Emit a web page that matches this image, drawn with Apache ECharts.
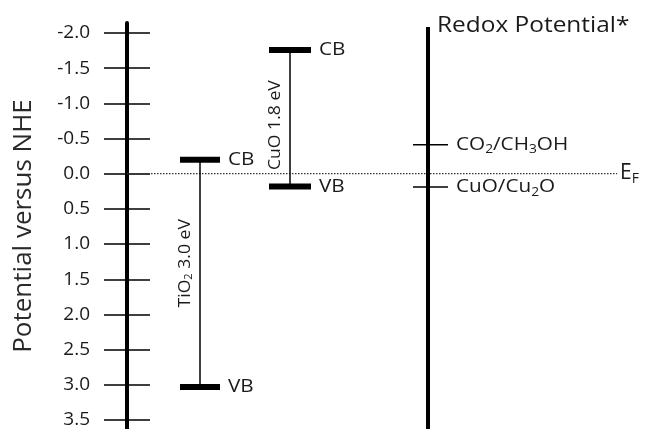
<!DOCTYPE html>
<html><head><meta charset="utf-8">
<script src="https://cdn.jsdelivr.net/npm/echarts@6/dist/echarts.min.js"></script>
<style>html,body{margin:0;padding:0;background:#fff}#c{width:649px;height:429px}</style>
</head><body><div id="c"></div>
<script>
// ---- data ----
const yTicks = [-2.0, -1.5, -1.0, -0.5, 0.0, 0.5, 1.0, 1.5, 2.0, 2.5, 3.0, 3.5];
const materials = ['TiO{s|2}', 'CuO'];
const cbEdge = [-0.2, -1.76];
const vbEdge = [3.03, 0.18];
const bandGapText = ['3.0 eV', '1.8 eV'];
const redoxCouples = ['CO{s|2}/CH{s|3}OH', 'CuO/Cu{s|2}O'];
const redoxPotential = [-0.41, 0.19];
const fermiLevel = 0.0;
const axisTitle = 'Potential versus NHE';
const redoxTitle = 'Redox Potential*';

// ---- layout / style ----
const FONT = '"Open Sans"';
const INK = '#1a1a1a';
const Y_MIN = -2.142, Y_MAX = 3.628;
const bandPos = [73, 163];      // x offset from main axis
const bandHalf = [20, 21];
const labelShift = [-10, 7];
const redoxPos = 301;
const fermiExtent = [-24, 490];

function rich(size) {
  return {
    n: {fontFamily: FONT, fontSize: size, fill: INK},
    s: {fontFamily: FONT, fontSize: Math.round(size * 0.65), fill: INK, padding: [Math.round(size * 0.55), 0, 0, 0]}
  };
}
function wrapN(t) { return t.split(/(\{s\|[^}]*\})/).filter(Boolean).map(p => p.startsWith('{s|') ? p : '{n|' + p + '}').join(''); }

const chart = echarts.init(document.getElementById('c'), null, {renderer: 'canvas'});

const yBase = {
  type: 'value', inverse: true, min: Y_MIN, max: Y_MAX, position: 'left',
  splitLine: {show: false}
};

chart.setOption({
  animation: false,
  backgroundColor: '#fff',
  grid: {left: 127, right: 0, top: 23, bottom: 0, containLabel: false, outerBoundsMode: 'none'},
  xAxis: {type: 'value', min: 0, max: 522, show: false},
  yAxis: [
    Object.assign({}, yBase, {
      axisLine: {show: true, onZero: false, lineStyle: {color: '#000', width: 4}},
      axisTick: {show: true, inside: false, length: 23, customValues: yTicks, lineStyle: {color: '#000', width: 1.5}},
      axisLabel: {show: true, customValues: yTicks, margin: 37, fontSize: 19, fontFamily: FONT, color: INK,
        formatter: v => v.toFixed(1)},
      name: axisTitle, nameLocation: 'middle', nameGap: 90,
      nameTextStyle: {fontSize: 26, fontFamily: FONT, color: '#2a2a2a'}
    }),
    Object.assign({}, yBase, {
      axisLine: {show: false, onZero: false},
      axisTick: {show: true, inside: true, length: 23, customValues: yTicks, lineStyle: {color: '#000', width: 1.5}},
      axisLabel: {show: false}
    })
  ],
  series: [
    {
      type: 'line', name: 'EF', xAxisIndex: 0, yAxisIndex: 0, symbol: 'none', silent: true, clip: false,
      data: [[fermiExtent[0], fermiLevel], [fermiExtent[1], fermiLevel]],
      lineStyle: {color: '#333', width: 1.2, type: [1.5, 1.5]}, z: 1
    },
    {
      type: 'custom', name: 'EF label', clip: false, silent: true,
      data: [[fermiExtent[1], fermiLevel]],
      renderItem(params, api) {
        const p = api.coord([api.value(0), api.value(1)]);
        return {type: 'text', x: p[0] + 3, y: p[1] - 1,
          style: {text: '{n|E}{s|F}', rich: rich(21), align: 'left', verticalAlign: 'middle'}};
      }
    },
    {
      type: 'custom', name: 'bands', clip: false, silent: true, z: 3,
      data: materials.map((m, i) => [bandPos[i], cbEdge[i], vbEdge[i], i]),
      renderItem(params, api) {
        const i = api.value(3);
        const hw = bandHalf[i];
        const pC = api.coord([api.value(0), api.value(1)]);
        const pV = api.coord([api.value(0), api.value(2)]);
        const cx = pC[0];
        const midY = (pC[1] + pV[1]) / 2 + labelShift[i];
        return {type: 'group', children: [
          {type: 'line', shape: {x1: cx, y1: pC[1], x2: cx, y2: pV[1]}, style: {stroke: '#000', lineWidth: 1.5}},
          {type: 'rect', shape: {x: cx - hw, y: pC[1] - 3, width: 2 * hw, height: 6}, style: {fill: '#000'}},
          {type: 'rect', shape: {x: cx - hw, y: pV[1] - 3, width: 2 * hw, height: 6}, style: {fill: '#000'}},
          {type: 'text', x: cx + hw + 8, y: pC[1], scaleX: 1.15, style: {text: 'CB', fontFamily: FONT, fontSize: 18, fill: INK, align: 'left', verticalAlign: 'middle'}},
          {type: 'text', x: cx + hw + 8, y: pV[1], scaleX: 1.15, style: {text: 'VB', fontFamily: FONT, fontSize: 18, fill: INK, align: 'left', verticalAlign: 'middle'}},
          {type: 'text', x: cx - 15, y: midY, rotation: Math.PI / 2, scaleX: 1.1,
            style: {text: wrapN(materials[i] + ' ' + bandGapText[i]), rich: rich(16), align: 'center', verticalAlign: 'middle'}}
        ]};
      }
    },
    {
      type: 'custom', name: 'redox axis', clip: false, silent: true, z: 3,
      data: [[redoxPos, Y_MIN]],
      renderItem(params, api) {
        const p = api.coord([api.value(0), api.value(1)]);
        const cs = params.coordSys;
        return {type: 'group', children: [
          {type: 'line', shape: {x1: p[0], y1: cs.y + 4, x2: p[0], y2: cs.y + cs.height}, style: {stroke: '#000', lineWidth: 4}},
          {type: 'text', x: p[0] + 9, y: cs.y + 3, scaleX: 1.11, style: {text: redoxTitle, fontFamily: FONT, fontSize: 22, fill: INK, align: 'left', verticalAlign: 'middle'}}
        ]};
      }
    },
    {
      type: 'custom', name: 'redox couples', clip: false, silent: true, z: 3,
      data: redoxCouples.map((c, i) => [redoxPos, redoxPotential[i], i]),
      renderItem(params, api) {
        const i = api.value(2);
        const p = api.coord([api.value(0), api.value(1)]);
        return {type: 'group', children: [
          {type: 'line', shape: {x1: p[0] - 15, y1: p[1], x2: p[0] + 20, y2: p[1]}, style: {stroke: '#000', lineWidth: 1.5}},
          {type: 'text', x: p[0] + 28, y: p[1], scaleX: 1.15, style: {text: wrapN(redoxCouples[i]), rich: rich(18), align: 'left', verticalAlign: 'middle'}}
        ]};
      }
    }
  ]
});
</script></body></html>
